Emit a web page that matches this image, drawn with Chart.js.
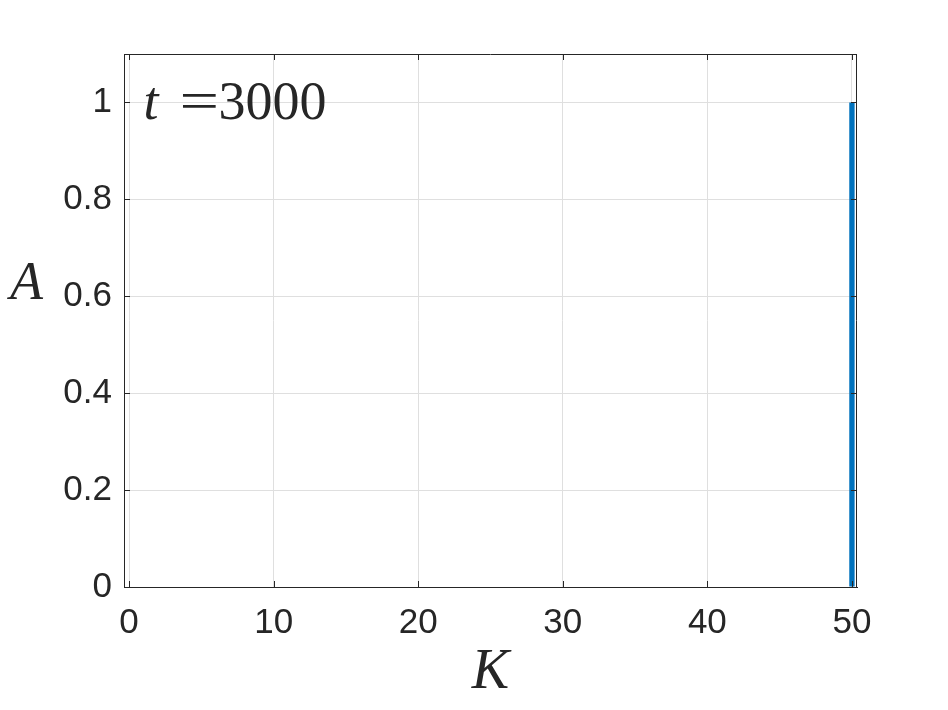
<!DOCTYPE html>
<html>
<head>
<meta charset="utf-8">
<script src="https://cdn.jsdelivr.net/npm/chart.js@4"></script>
<style>
  html, body { margin: 0; padding: 0; background: #ffffff; }
  #wrap { width: 948px; height: 710px; }
</style>
</head>
<body>
<div id="wrap"><canvas id="barChart" width="948" height="710"></canvas></div>
<script>
// data
const K = [0, 1, 2, 3, 4, 5, 6, 7, 8, 9, 10, 11, 12, 13, 14, 15, 16, 17, 18, 19, 20,
    21, 22, 23, 24, 25, 26, 27, 28, 29, 30, 31, 32, 33, 34, 35, 36, 37, 38, 39, 40,
    41, 42, 43, 44, 45, 46, 47, 48, 49, 50];
const A = [0, 0, 0, 0, 0, 0, 0, 0, 0, 0, 0, 0, 0, 0, 0, 0, 0, 0, 0, 0, 0,
    0, 0, 0, 0, 0, 0, 0, 0, 0, 0, 0, 0, 0, 0, 0, 0, 0, 0, 0, 0,
    0, 0, 0, 0, 0, 0, 0, 0, 0, 1];
const xTicks = [0, 10, 20, 30, 40, 50];
const yTicks = [0, 0.2, 0.4, 0.6, 0.8, 1];
const xLabel = 'K';
const yLabel = 'A';
const note = { italic: 't', eq: '=', num: '3000', x: 1, y: 0.966 };

const axisColor = '#262626';
const gridColor = '#dfdfdf';
const serif = '"Liberation Serif", "DejaVu Serif", serif';
const sans = '"Liberation Sans", Arial, sans-serif';

// box round the axes, inward tick marks, y label and the t= note
const matlabBox = {
    id: 'matlabBox',
    afterDraw(chart) {
        const ctx = chart.ctx;
        const area = chart.chartArea;
        const xs = chart.scales.x;
        const ys = chart.scales.y;
        const len = 6;

        ctx.save();
        ctx.strokeStyle = axisColor;
        ctx.lineWidth = 1;
        ctx.beginPath();
        ctx.moveTo(area.left, area.top + 0.5);
        ctx.lineTo(area.right, area.top + 0.5);
        ctx.moveTo(area.right - 0.5, area.top);
        ctx.lineTo(area.right - 0.5, area.bottom);
        xTicks.forEach(v => {
            const px = Math.round(xs.getPixelForValue(v)) + 0.5;
            ctx.moveTo(px, area.bottom);
            ctx.lineTo(px, area.bottom - len);
            ctx.moveTo(px, area.top);
            ctx.lineTo(px, area.top + len);
        });
        yTicks.forEach(v => {
            const py = Math.round(ys.getPixelForValue(v)) + 0.5;
            ctx.moveTo(area.left, py);
            ctx.lineTo(area.left + len, py);
            ctx.moveTo(area.right, py);
            ctx.lineTo(area.right - len, py);
        });
        ctx.stroke();

        ctx.fillStyle = axisColor;
        ctx.textBaseline = 'alphabetic';
        ctx.textAlign = 'left';
        ctx.font = 'italic 54px ' + serif;
        ctx.fillText(yLabel, area.left - 114, (area.top + area.bottom) / 2 - 22);

        const nx = xs.getPixelForValue(note.x);
        const ny = ys.getPixelForValue(note.y);
        ctx.font = 'italic 54px ' + serif;
        ctx.fillText(note.italic, nx, ny);
        ctx.font = '54px ' + serif;
        // the = sign of the original is wider than the Times one
        ctx.save();
        ctx.translate(nx + 36, 0);
        ctx.scale(1.3, 1);
        ctx.fillText(note.eq, 0, ny);
        ctx.restore();
        ctx.fillText(note.num, nx + 75, ny);
        ctx.restore();
    }
};

const ctx = document.getElementById('barChart').getContext('2d');

new Chart(ctx, {
    type: 'bar',
    data: {
        datasets: [{
            data: K.map((k, i) => ({ x: k, y: A[i] })),
            backgroundColor: '#0072BD',
            borderWidth: 0,
            categoryPercentage: 1,
            barPercentage: 0.37
        }]
    },
    options: {
        responsive: false,
        animation: false,
        layout: { padding: { top: 54, right: 91, left: 0, bottom: 0 } },
        plugins: {
            legend: { display: false },
            tooltip: { enabled: false }
        },
        scales: {
            x: {
                type: 'linear',
                min: -0.35,
                max: 50.35,
                offset: false,
                afterFit: s => { s.height = 123; },
                afterBuildTicks: s => { s.ticks = xTicks.map(v => ({ value: v })); },
                ticks: {
                    color: axisColor,
                    font: { family: sans, size: 35 },
                    padding: 15,
                    maxRotation: 0,
                    autoSkip: false
                },
                grid: { color: gridColor, drawTicks: false, offset: false },
                border: { display: true, color: axisColor },
                title: {
                    display: true,
                    text: xLabel,
                    color: axisColor,
                    font: { family: serif, size: 56, style: 'italic' },
                    padding: { top: 0, bottom: 3 }
                }
            },
            y: {
                min: 0,
                max: 1.1,
                afterFit: s => { s.width = 124; },
                afterBuildTicks: s => { s.ticks = yTicks.map(v => ({ value: v })); },
                ticks: {
                    color: axisColor,
                    font: { family: sans, size: 35 },
                    padding: 12,
                    callback: v => String(v)
                },
                grid: { color: gridColor, drawTicks: false },
                border: { display: true, color: axisColor }
            }
        }
    },
    plugins: [matlabBox]
});
</script>
</body>
</html>
